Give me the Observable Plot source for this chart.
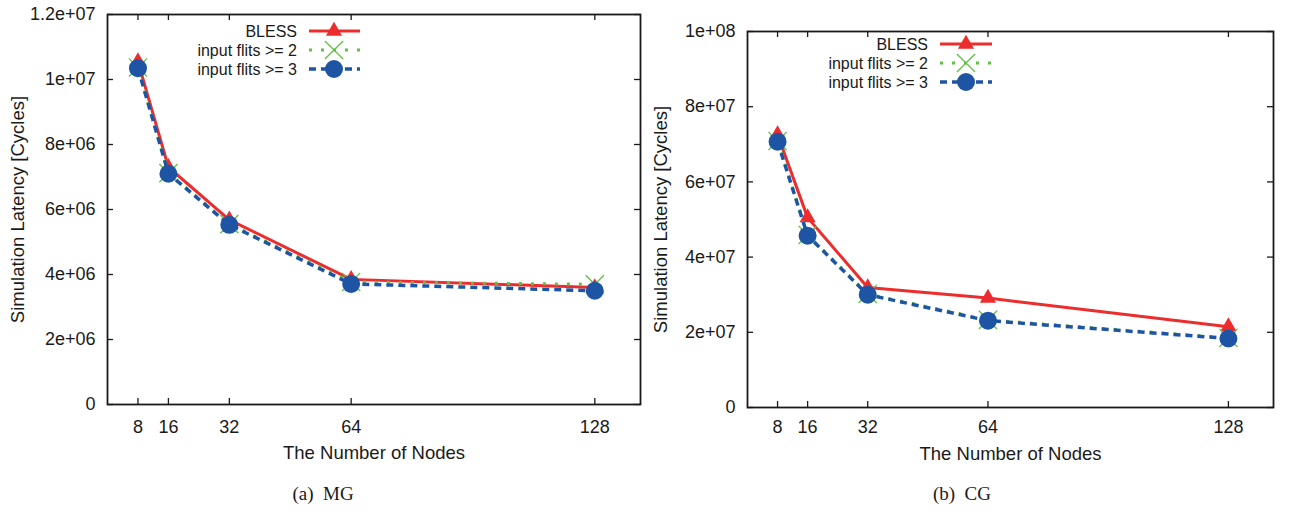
<!DOCTYPE html>
<html>
<head>
<meta charset="utf-8">
<script src="https://cdn.jsdelivr.net/npm/d3@7"></script>
<script src="https://cdn.jsdelivr.net/npm/@observablehq/plot@0.6"></script>
<style>
  body { margin: 0; background: #fff; }
  #wrap { position: relative; width: 1289px; height: 512px; overflow: hidden; background: #fff;
          font-family: "Liberation Sans", Arial, Helvetica, sans-serif; color: #1a1a1a; }
  .panel { position: absolute; top: 0; }
  .overlay { position: absolute; top: 0; left: 0; pointer-events: none; }
  .caption { position: absolute; font-family: "Liberation Serif", "Times New Roman", serif; font-size: 19px;
             color: #1a1a1a; white-space: pre; transform: translate(-50%, -50%); }
</style>
</head>
<body>
<div id="wrap"></div>
<script>
// ---------- data ----------
const nodes = [8, 16, 32, 64, 128];
const seriesNames = ["BLESS", "input flits >= 2", "input flits >= 3"];

const mgBless  = [10.55e6, 7.3e6, 5.68e6, 3.85e6, 3.6e6];
const mgFlits2 = [10.37e6, 7.12e6, 5.55e6, 3.77e6, 3.7e6];
const mgFlits3 = [10.35e6, 7.1e6, 5.53e6, 3.71e6, 3.5e6];

const cgBless  = [72.6e6, 50.5e6, 31.9e6, 29.1e6, 21.5e6];
const cgFlits2 = [70.9e6, 45.9e6, 30.2e6, 23.3e6, 18.5e6];
const cgFlits3 = [70.7e6, 45.7e6, 30.0e6, 23.1e6, 18.35e6];

const xTicks = [8, 16, 32, 64, 128];
const mgYTicks = [0, 2e6, 4e6, 6e6, 8e6, 1e7, 1.2e7];
const mgYTickLabels = ["0", "2e+06", "4e+06", "6e+06", "8e+06", "1e+07", "1.2e+07"];
const cgYTicks = [0, 2e7, 4e7, 6e7, 8e7, 1e8];
const cgYTickLabels = ["0", "2e+07", "4e+07", "6e+07", "8e+07", "1e+08"];

const xLabel = "The Number of Nodes";
const yLabel = "Simulation Latency [Cycles]";
const captions = ["(a)  MG", "(b)  CG"];

// ---------- styles ----------
const ink = "#1a1a1a";
const styles = [
  { color: "#ec2d2d", width: 3,   dash: null,  symbol: "triangle", r: 6,   filled: true },
  { color: "#62c046", width: 3,   dash: "3,9", symbol: "times",    r: 8.3, filled: false },
  { color: "#1d55a4", width: 3.5, dash: "7,5", symbol: "circle",   r: 9,   filled: true }
];

const wrap = document.getElementById("wrap");

function panel(o) {
  const rows = [];
  o.series.forEach((vals, s) => nodes.forEach((n, i) => rows.push({ s, x: n, y: vals[i] })));
  const plotW = o.width - o.mL - o.mR;
  const plotH = o.height - o.mT - o.mB;

  const marks = [
    Plot.tickY(o.yTicks, { y: d => d, insetRight: plotW - 6, stroke: ink, strokeWidth: 1.3 }),
    Plot.tickY(o.yTicks, { y: d => d, insetLeft: plotW - 6, stroke: ink, strokeWidth: 1.3 }),
    Plot.tickX(xTicks, { x: d => d, insetTop: plotH - 6, stroke: ink, strokeWidth: 1.3 }),
    Plot.tickX(xTicks, { x: d => d, insetBottom: plotH - 6, stroke: ink, strokeWidth: 1.3 }),
    Plot.axisY({ ticks: o.yTicks, tickFormat: d => o.yTickLabels[o.yTicks.indexOf(d)],
                 tickSize: 0, tickPadding: 12, fontSize: 18, label: null }),
    Plot.axisX({ ticks: xTicks, tickFormat: d => String(d), tickSize: 0, tickPadding: o.xPad,
                 fontSize: 18, label: null }),
    Plot.text([yLabel], { text: d => d, frameAnchor: "left", textAnchor: "middle", lineAnchor: "middle",
                          rotate: -90, dx: o.yLabelDx, fontSize: 18.5, fill: ink }),
    Plot.text([xLabel], { text: d => d, frameAnchor: "bottom", textAnchor: "middle", lineAnchor: "middle",
                          dy: o.xLabelDy, fontSize: 18.5, fill: ink })
  ];
  styles.forEach((st, s) => {
    const data = rows.filter(r => r.s === s);
    marks.push(Plot.line(data, { x: "x", y: "y", stroke: st.color, strokeWidth: st.width,
                                 strokeDasharray: st.dash, strokeLinejoin: "miter", strokeLinecap: "butt" }));
    marks.push(st.filled
      ? Plot.dot(data, { x: "x", y: "y", symbol: st.symbol, r: st.r, fill: st.color, stroke: "none" })
      : Plot.dot(data, { x: "x", y: "y", symbol: st.symbol, r: st.r, fill: "none", stroke: st.color, strokeWidth: 1.3 }));
  });
  marks.push(Plot.frame({ stroke: ink, strokeWidth: 1.8 }));

  const chart = Plot.plot({
    width: o.width, height: o.height,
    marginLeft: o.mL, marginRight: o.mR, marginTop: o.mT, marginBottom: o.mB,
    x: { domain: [0, 140] },
    y: { domain: o.yDomain },
    style: { fontFamily: '"Liberation Sans", Arial, sans-serif', fontSize: "18px", color: ink, background: "transparent", overflow: "visible" },
    marks
  });
  const holder = document.createElement("div");
  holder.className = "panel";
  holder.style.left = o.left + "px";
  holder.appendChild(chart);
  wrap.appendChild(holder);

  // legend (drawn in page coordinates)
  const svg = d3.select(wrap).append("svg").attr("class", "overlay")
    .attr("width", 1289).attr("height", 512);
  styles.forEach((st, s) => {
    const y = o.legend.rows[s];
    svg.append("text").attr("x", o.legend.textRight).attr("y", y)
      .attr("text-anchor", "end").attr("dominant-baseline", "central")
      .attr("font-family", '"Liberation Sans", Arial, sans-serif').attr("font-size", 16)
      .attr("fill", ink).text(seriesNames[s]);
    svg.append("line").attr("x1", o.legend.x1).attr("x2", o.legend.x2).attr("y1", y).attr("y2", y)
      .attr("stroke", st.color).attr("stroke-width", st.width)
      .attr("stroke-dasharray", st.dash);
    const symType = st.symbol === "triangle" ? d3.symbolTriangle : st.symbol === "times" ? d3.symbolTimes : d3.symbolCircle;
    const p = svg.append("path").attr("transform", `translate(${o.legend.mx},${y})`)
      .attr("d", d3.symbol(symType, Math.PI * st.r * st.r)());
    if (st.filled) p.attr("fill", st.color);
    else p.attr("fill", "none").attr("stroke", st.color).attr("stroke-width", 1.3);
  });

  const cap = document.createElement("div");
  cap.className = "caption";
  cap.style.left = o.captionX + "px";
  cap.style.top = o.captionY + "px";
  cap.textContent = o.caption;
  wrap.appendChild(cap);
}

panel({
  left: 0, width: 645, height: 445, mL: 107, mR: 5, mT: 14, mB: 41,
  yDomain: [0, 1.2e7], yTicks: mgYTicks, yTickLabels: mgYTickLabels,
  series: [mgBless, mgFlits2, mgFlits3],
  xPad: 16, yLabelDx: -89, xLabelDy: 49,
  legend: { textRight: 297, x1: 309, x2: 360, mx: 334, rows: [31, 50, 69] },
  caption: captions[0], captionX: 323, captionY: 494
});

panel({
  left: 645, width: 644, height: 445, mL: 102, mR: 16, mT: 31, mB: 38,
  yDomain: [0, 1e8], yTicks: cgYTicks, yTickLabels: cgYTickLabels,
  series: [cgBless, cgFlits2, cgFlits3],
  xPad: 13, yLabelDx: -86, xLabelDy: 47,
  legend: { textRight: 928, x1: 940, x2: 992, mx: 966, rows: [44, 63, 82] },
  caption: captions[1], captionX: 962, captionY: 494
});
</script>
</body>
</html>
